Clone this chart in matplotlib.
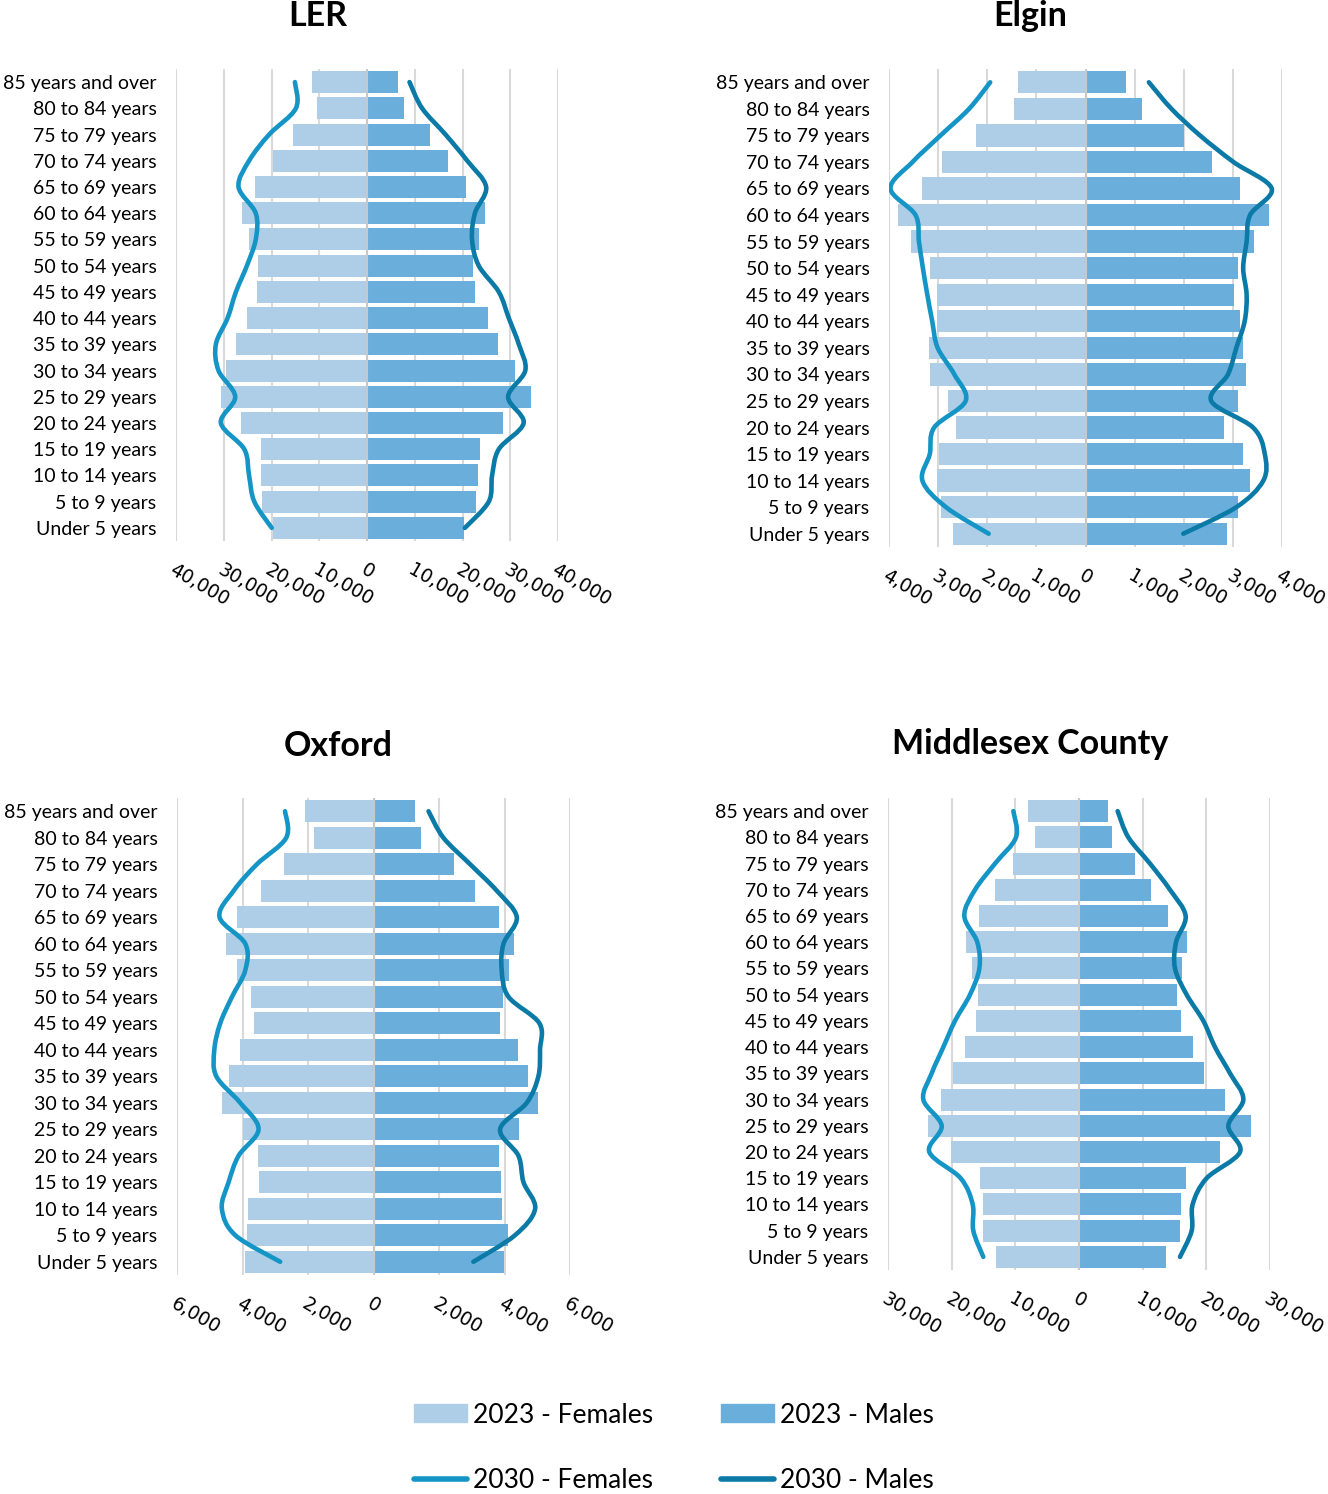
import numpy as np
import matplotlib.pyplot as plt
from matplotlib.path import Path
from matplotlib.patches import PathPatch, Patch
from matplotlib.lines import Line2D

# ---------------------------------
# Datos (de arriba hacia abajo)
# ---------------------------------

grupos = ["85 years and over", "80 to 84 years", "75 to 79 years", "70 to 74 years",
          "65 to 69 years", "60 to 64 years", "55 to 59 years", "50 to 54 years",
          "45 to 49 years", "40 to 44 years", "35 to 39 years", "30 to 34 years",
          "25 to 29 years", "20 to 24 years", "15 to 19 years", "10 to 14 years",
          "5 to 9 years", "Under 5 years"]

ler_f_2023 = [11600, 10400, 15500, 19650, 23400, 26100, 24700, 22850, 23050,
              25100, 27450, 29500, 30500, 26350, 22250, 22100, 21950, 19650]
ler_m_2023 = [6550, 7700, 13100, 16900, 20800, 24800, 23550, 22300, 22700,
              25300, 27450, 30950, 34400, 28550, 23750, 23150, 22800, 20350]
ler_f_2030 = [15100, 14900, 20500, 24700, 26900, 23300, 23300, 25150, 27450,
              29200, 31650, 31100, 27600, 30600, 25700, 24700, 23600, 19950]
ler_m_2030 = [8900, 11550, 16450, 21000, 24950, 22600, 22000, 23400, 27600,
              29700, 31800, 33150, 29550, 32800, 27600, 26200, 25500, 20500]

elgin_f_2023 = [1370, 1450, 2220, 2920, 3330, 3820, 3550, 3170, 3030,
                3030, 3180, 3170, 2790, 2630, 2980, 3030, 2950, 2700]
elgin_m_2023 = [830, 1140, 2010, 2580, 3150, 3730, 3440, 3100, 3020,
                3140, 3200, 3270, 3100, 2810, 3210, 3340, 3110, 2880]
elgin_f_2030 = [1940, 2370, 2950, 3520, 3970, 3460, 3390, 3310, 3220,
                3120, 3010, 2670, 2440, 3080, 3170, 3320, 2840, 1970]
elgin_m_2030 = [1290, 1750, 2330, 3010, 3790, 3350, 3280, 3210, 3280,
                3240, 3070, 2900, 2560, 3410, 3650, 3620, 3070, 1990]

oxford_f_2023 = [2085, 1820, 2745, 3430, 4160, 4500, 4180, 3745, 3660,
                 4070, 4425, 4630, 4000, 3530, 3510, 3835, 3855, 3915]
oxford_m_2023 = [1260, 1465, 2460, 3090, 3835, 4300, 4130, 3950, 3875,
                 4400, 4720, 5035, 4455, 3845, 3885, 3915, 4100, 3980]
oxford_f_2030 = [2700, 2665, 3560, 4270, 4700, 3915, 3915, 4320, 4680,
                 4860, 4800, 4070, 3510, 4120, 4425, 4630, 4220, 2850]
oxford_m_2030 = [1680, 2135, 2950, 3765, 4375, 3970, 3915, 4120, 5065,
                 5085, 5035, 4680, 3865, 4425, 4580, 4935, 4320, 3050]

mx_f_2023 = [8010, 6960, 10310, 13190, 15760, 17750, 16750, 15860, 16180,
             17850, 19740, 21620, 23660, 20100, 15600, 15080, 15025, 12985]
mx_m_2023 = [4555, 5235, 8740, 11310, 13930, 16960, 16125, 15340, 15970,
             17900, 19690, 22880, 27015, 22150, 16860, 16070, 15810, 13720]
mx_f_2030 = [10310, 9900, 13190, 16330, 18010, 15970, 15650, 17120, 19480,
             21310, 23140, 24450, 21570, 23510, 18590, 16700, 16600, 15030]
mx_m_2030 = [6070, 7750, 11150, 14290, 16750, 15240, 15080, 16910, 19530,
             21360, 23720, 25810, 23455, 25290, 20050, 17850, 17700, 15860]

# ---------------------------------
# Estilo
# ---------------------------------

c_f23 = '#AECDE6'
c_m23 = '#6AAFDB'
c_f30 = '#1595C6'
c_m30 = '#0B7AA6'

W, H = 1328, 1494
fig = plt.figure(figsize=(W/100, H/100), dpi=100)


def curva_suave(ax, xs, ys, color):
    # curva Bezier que pasa por los puntos (como el suavizado de Excel)
    pts = np.column_stack([xs, ys]).astype(float)
    ext = np.vstack([pts[0], pts, pts[-1]])
    verts = [pts[0]]
    codes = [Path.MOVETO]
    for i in range(len(pts) - 1):
        p0, p1, p2, p3 = ext[i], ext[i+1], ext[i+2], ext[i+3]
        verts += [p1 + (p2 - p0)/6, p2 - (p3 - p1)/6, p2]
        codes += [Path.CURVE4]*3
    ax.add_patch(PathPatch(Path(verts, codes), fill=False, edgecolor=color,
                           lw=3.3, capstyle='round', joinstyle='round', zorder=4))


def piramide(caja, titulo, tit_xy, f23, m23, f30, m30, lim, paso):
    x0, y0, x1, y1 = caja
    ax = fig.add_axes([x0/W, 1 - y1/H, (x1-x0)/W, (y1-y0)/H])
    y = np.arange(len(grupos))

    ax.barh(y, -np.array(f23), height=0.84, color=c_f23, zorder=2)
    ax.barh(y, m23, height=0.84, color=c_m23, zorder=2)
    curva_suave(ax, -np.array(f30), y, c_f30)
    curva_suave(ax, m30, y, c_m30)
    ax.axvline(0, color='#C8C8C8', lw=1.5, zorder=3)

    ax.set_xlim(-lim, lim)
    ax.set_ylim(len(grupos) - 0.5, -0.5)
    ticks = np.arange(-lim, lim + 1, paso)
    ax.set_xticks(ticks)
    ax.set_xticklabels([f"{abs(t):,}" for t in ticks], rotation=-30,
                       ha='left', va='top', rotation_mode='anchor',
                       fontsize=13.5, family='DejaVu Sans')
    ax.set_yticks(y)
    ax.set_yticklabels(grupos, fontsize=14, family='Lato')
    ax.tick_params(length=0)
    ax.tick_params(axis='x', pad=14)
    ax.tick_params(axis='y', pad=14)
    ax.grid(axis='x', color='#D9D9D9', lw=1.5, zorder=0)
    ax.set_axisbelow(True)
    for s in ax.spines.values():
        s.set_visible(False)

    fig.text(tit_xy[0]/W, 1 - tit_xy[1]/H, titulo, ha='center', va='center',
             fontsize=24.5, fontweight='bold', family='Lato')


piramide((176, 69, 558, 541), "LER", (318, 16),
         ler_f_2023, ler_m_2023, ler_f_2030, ler_m_2030, 40000, 10000)
piramide((889, 69, 1282, 547), "Elgin", (1030, 16),
         elgin_f_2023, elgin_m_2023, elgin_f_2030, elgin_m_2030, 4000, 1000)
piramide((177, 798, 570, 1275), "Oxford", (338, 746),
         oxford_f_2023, oxford_m_2023, oxford_f_2030, oxford_m_2030, 6000, 2000)
piramide((888, 798, 1270, 1270), "Middlesex County", (1030, 744),
         mx_f_2023, mx_m_2023, mx_f_2030, mx_m_2030, 30000, 10000)

# ---------------------------------
# Leyenda
# ---------------------------------

handles = [Patch(color=c_f23), Line2D([], [], color=c_f30, lw=4, solid_capstyle='round'),
           Patch(color=c_m23), Line2D([], [], color=c_m30, lw=4, solid_capstyle='round')]
labels = ["2023 - Females", "2030 - Females", "2023 - Males", "2030 - Males"]
fig.legend(handles, labels, ncol=2, loc='center', frameon=False,
           bbox_to_anchor=(674/W, 1 - 1448/H), borderpad=0,
           prop={'family': 'Lato', 'size': 19}, handlelength=2.0,
           handleheight=0.65, handletextpad=0.25, columnspacing=2.55,
           labelspacing=1.55)

fig.savefig('out.png', dpi=100)
